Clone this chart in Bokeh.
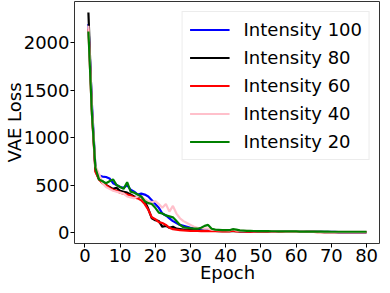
from bokeh.plotting import figure
from bokeh.models import Legend, LegendItem, FixedTicker, Range1d
from bokeh.embed import file_html
from bokeh.resources import INLINE

epochs = list(range(1, 81))

intensity_100 = [2200, 1350, 680, 600, 590, 585, 570, 520, 500, 480,
                 470, 500, 450, 430, 400, 410, 400, 380, 340, 300,
                 260, 200, 180, 150, 120, 100, 80, 70, 60, 50,
                 45, 40, 35, 30, 28, 25, 25, 22, 20, 20,
                 18, 30, 20, 15, 14, 13, 12, 12, 11, 11,
                 10, 10, 10, 9, 9, 9, 8, 8, 8, 8,
                 7, 7, 7, 7, 7, 6, 6, 6, 6, 6,
                 6, 5, 5, 5, 5, 5, 5, 5, 5, 5]

intensity_80 = [2320, 1300, 650, 560, 540, 500, 480, 460, 470, 440,
                430, 420, 400, 380, 370, 380, 330, 250, 150, 130,
                120, 60, 70, 50, 60, 40, 35, 30, 30, 25,
                25, 22, 20, 20, 18, 18, 16, 15, 15, 14,
                14, 13, 13, 12, 12, 11, 11, 10, 10, 10,
                9, 9, 9, 8, 8, 8, 7, 7, 7, 7,
                7, 6, 6, 6, 6, 6, 6, 5, 5, 5,
                5, 5, 5, 5, 5, 5, 5, 5, 5, 5]

intensity_60 = [2150, 1250, 640, 560, 520, 500, 470, 450, 440, 420,
                410, 400, 390, 370, 360, 340, 300, 240, 160, 140,
                110, 100, 80, 50, 35, 30, 25, 22, 20, 18,
                17, 16, 15, 15, 14, 14, 13, 13, 12, 12,
                12, 20, 12, 11, 11, 10, 10, 10, 9, 9,
                9, 8, 8, 8, 8, 7, 7, 7, 7, 6,
                6, 6, 6, 6, 6, 5, 5, 5, 5, 5,
                5, 5, 5, 4, 4, 4, 4, 4, 4, 4]

intensity_40 = [2180, 1300, 700, 620, 520, 480, 460, 440, 430, 420,
                410, 380, 370, 360, 380, 380, 350, 330, 320, 330,
                300, 260, 300, 220, 280, 200, 150, 120, 100, 80,
                60, 50, 45, 40, 40, 30, 28, 26, 25, 24,
                22, 35, 22, 20, 18, 17, 16, 15, 14, 14,
                13, 13, 12, 12, 11, 11, 10, 10, 10, 9,
                9, 9, 8, 8, 8, 8, 7, 7, 7, 7,
                7, 6, 6, 6, 6, 6, 6, 6, 6, 6]

intensity_20 = [2120, 1250, 680, 560, 540, 520, 540, 560, 500, 480,
                460, 530, 430, 420, 400, 380, 330, 310, 300, 260,
                210, 200, 180, 170, 160, 120, 80, 55, 50, 45,
                40, 40, 50, 70, 80, 40, 30, 28, 26, 25,
                24, 35, 30, 22, 20, 18, 17, 16, 15, 15,
                14, 14, 13, 13, 12, 12, 12, 11, 11, 11,
                10, 10, 10, 10, 9, 9, 9, 9, 9, 8,
                8, 8, 8, 8, 8, 8, 8, 8, 8, 8]

series_names = ["Intensity 100", "Intensity 80", "Intensity 60", "Intensity 40", "Intensity 20"]
series_values = [intensity_100, intensity_80, intensity_60, intensity_40, intensity_20]
series_colors = ["#0000ff", "#000000", "#ff0000", "#ffc0cb", "#008000"]

x_ticks = [0, 10, 20, 30, 40, 50, 60, 70, 80]
y_ticks = [0, 500, 1000, 1500, 2000]

FONT = "DejaVu Sans"

p = figure(width=380, height=285, output_backend="svg", toolbar_location=None,
           x_range=Range1d(-2.95, 83.95), y_range=Range1d(-116, 2436),
           min_border_left=0, min_border_right=0, min_border_top=1, min_border_bottom=0)

items = []
for name, vals, col in zip(series_names, series_values, series_colors):
    r = p.line(epochs, vals, line_color=col, line_width=2.2)
    items.append(LegendItem(label=name, renderers=[r]))

legend = Legend(items=items, location="top_right",
                label_text_font=FONT, label_text_font_size="18px",
                label_text_color="#000000",
                glyph_width=40, glyph_height=21, label_height=21,
                label_standoff=14, spacing=7, padding=7, margin=10,
                border_line_color="#d9d9d9", border_line_width=1,
                background_fill_alpha=0.8)
p.add_layout(legend)

p.xgrid.visible = False
p.ygrid.visible = False
p.outline_line_color = "#333333"
p.outline_line_width = 1

p.xaxis.ticker = FixedTicker(ticks=x_ticks)
p.yaxis.ticker = FixedTicker(ticks=y_ticks)
for ax in (p.xaxis[0], p.yaxis[0]):
    ax.axis_line_color = None
    ax.major_tick_line_color = "#000000"
    ax.major_tick_out = 4
    ax.major_tick_in = 0
    ax.minor_tick_line_color = None
    ax.major_label_text_font = FONT
    ax.major_label_text_font_size = "18px"
    ax.major_label_text_color = "#000000"
    ax.axis_label_text_font = FONT
    ax.axis_label_text_font_size = "18px"
    ax.axis_label_text_font_style = "normal"
    ax.axis_label_text_color = "#000000"
    ax.major_label_standoff = 1

p.xaxis[0].axis_label_standoff = -3
p.yaxis[0].axis_label_standoff = -4
p.xaxis.axis_label = "Epoch"
p.yaxis.axis_label = "VAE Loss"

open("out.html", "w").write(file_html(p, INLINE))
